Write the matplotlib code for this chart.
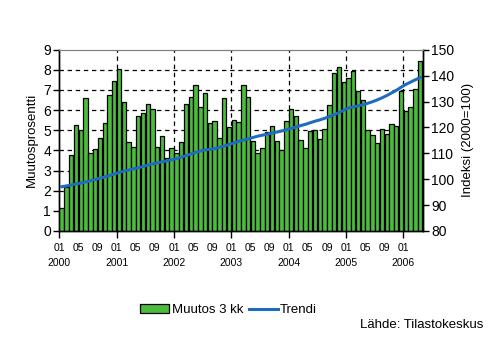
import matplotlib
matplotlib.use('Agg')
import matplotlib.pyplot as plt
import numpy as np
from matplotlib.lines import Line2D
from matplotlib.patches import Patch

plt.rcParams['font.family'] = ['Liberation Sans', 'DejaVu Sans']

# Kuukausittainen muutos (3 kk), 2000-01 ... 2006-04
muutos = [1.13, 2.20, 3.76, 5.25, 5.00, 6.59, 3.86, 4.07, 4.60, 5.35, 6.74, 7.43,
          8.06, 6.39, 4.40, 4.19, 5.70, 5.84, 6.29, 6.04, 4.19, 4.70, 3.61, 4.11,
          3.86, 4.40, 6.29, 6.64, 7.24, 6.14, 6.84, 5.35, 5.45, 4.60, 6.59, 5.15,
          5.50, 5.40, 7.24, 6.67, 4.45, 3.86, 4.11, 4.90, 5.20, 4.45, 4.00, 5.45,
          6.04, 5.70, 4.50, 4.11, 4.95, 5.00, 4.55, 5.05, 6.24, 7.83, 8.13, 7.38,
          7.58, 7.93, 6.94, 6.49, 5.00, 4.75, 4.35, 5.05, 4.80, 5.30, 5.20, 6.94,
          5.98, 6.14, 7.04, 8.43]

# Trendi-indeksi (2000=100)
trendi = [97.1, 97.4, 97.8, 98.2, 98.5, 98.9, 99.4, 99.9, 100.4, 100.9, 101.4, 102.0,
          102.6, 103.1, 103.5, 104.0, 104.4, 104.9, 105.4, 105.9, 106.3, 106.7, 107.1, 107.5,
          107.9, 108.5, 109.1, 109.7, 110.3, 110.9, 111.3, 111.5, 111.8, 112.3, 112.8, 113.4,
          114.0, 114.6, 115.1, 115.6, 116.1, 116.6, 117.0, 117.4, 117.8, 118.2, 118.6, 119.1,
          119.6, 120.1, 120.7, 121.2, 121.8, 122.4, 122.9, 123.5, 124.2, 124.9, 125.7, 126.6,
          127.5, 127.9, 128.3, 128.8, 129.3, 129.9, 130.6, 131.4, 132.3, 133.3, 134.3, 135.5,
          136.6, 137.5, 138.4, 139.2]

vuodet = ['2000', '2001', '2002', '2003', '2004', '2005', '2006']
kuukausi_lab = ['01', '05', '09']

n = len(muutos)
x = np.arange(n)

fig = plt.figure(figsize=(4.95, 3.4), dpi=100)
ax = fig.add_axes([0.1198, 0.3206, 0.7339, 0.5332])
ax2 = ax.twinx()

ax.bar(x, muutos, width=0.92, color='#4cbc3c', edgecolor='black', linewidth=0.9, zorder=3)
ax2.plot(x, trendi, color='#1e6cc0', linewidth=2.2, zorder=4)

ax.set_xlim(-0.5, n - 0.5)
ax.set_ylim(0, 9)
ax2.set_ylim(80, 150)
ax.set_yticks(range(0, 10))
ax2.set_yticks(range(80, 151, 10))

# gridlines: dashed black, horizontal every unit, vertical at year boundaries
for yv in range(1, 9):
    ax.axhline(yv, color='black', linestyle=(0, (3.5, 3)), linewidth=0.9, zorder=1)
for k in range(1, len(vuodet)):
    ax.axvline(12 * k - 0.5, color='black', linestyle=(0, (3.5, 3)), linewidth=0.9, zorder=1)

# x axis: year ticks with "01" + year, minor labels 05 / 09
major = [12 * k - 0.5 for k in range(len(vuodet))]
ax.set_xticks(major)
ax.set_xticklabels(['01\n' + v for v in vuodet], fontsize=7.5, linespacing=1.6)
minor = [m + off for m in major for off in (4, 8) if m + off < n - 1]
ax.set_xticks(minor, minor=True)
ax.set_xticklabels([kuukausi_lab[1 + (i % 2)] for i in range(len(minor))], minor=True, fontsize=7.5)
ax.tick_params(axis='x', which='major', direction='out', length=5, width=1, pad=4)
ax.tick_params(axis='x', which='minor', length=0, pad=9)
ax.tick_params(axis='y', direction='out', length=4, width=1, labelsize=10, pad=2)
ax2.tick_params(axis='y', direction='out', length=4, width=1, labelsize=10, pad=2)

for a in (ax, ax2):
    a.spines['top'].set_color('#808080')
    a.spines['left'].set_linewidth(1)
    a.spines['right'].set_linewidth(1)
    a.spines['bottom'].set_linewidth(1)

ax.set_ylabel('Muutosprosentti', fontsize=9.5, labelpad=4)
ax2.set_ylabel('Indeksi (2000=100)', fontsize=9.5, labelpad=6)

handles = [Patch(facecolor='#4cbc3c', edgecolor='black', linewidth=0.9),
           Line2D([0], [0], color='#1e6cc0', linewidth=2.2)]
fig.legend(handles, ['Muutos 3 kk', 'Trendi'], loc='center', bbox_to_anchor=(0.462, 0.088),
           ncol=2, frameon=False, fontsize=9.5, handlelength=2.2, handletextpad=0.2,
           columnspacing=0.4)
fig.text(0.976, 0.045, 'Lähde: Tilastokeskus', ha='right', va='center', fontsize=9.5)

fig.savefig('out.png', dpi=100)
